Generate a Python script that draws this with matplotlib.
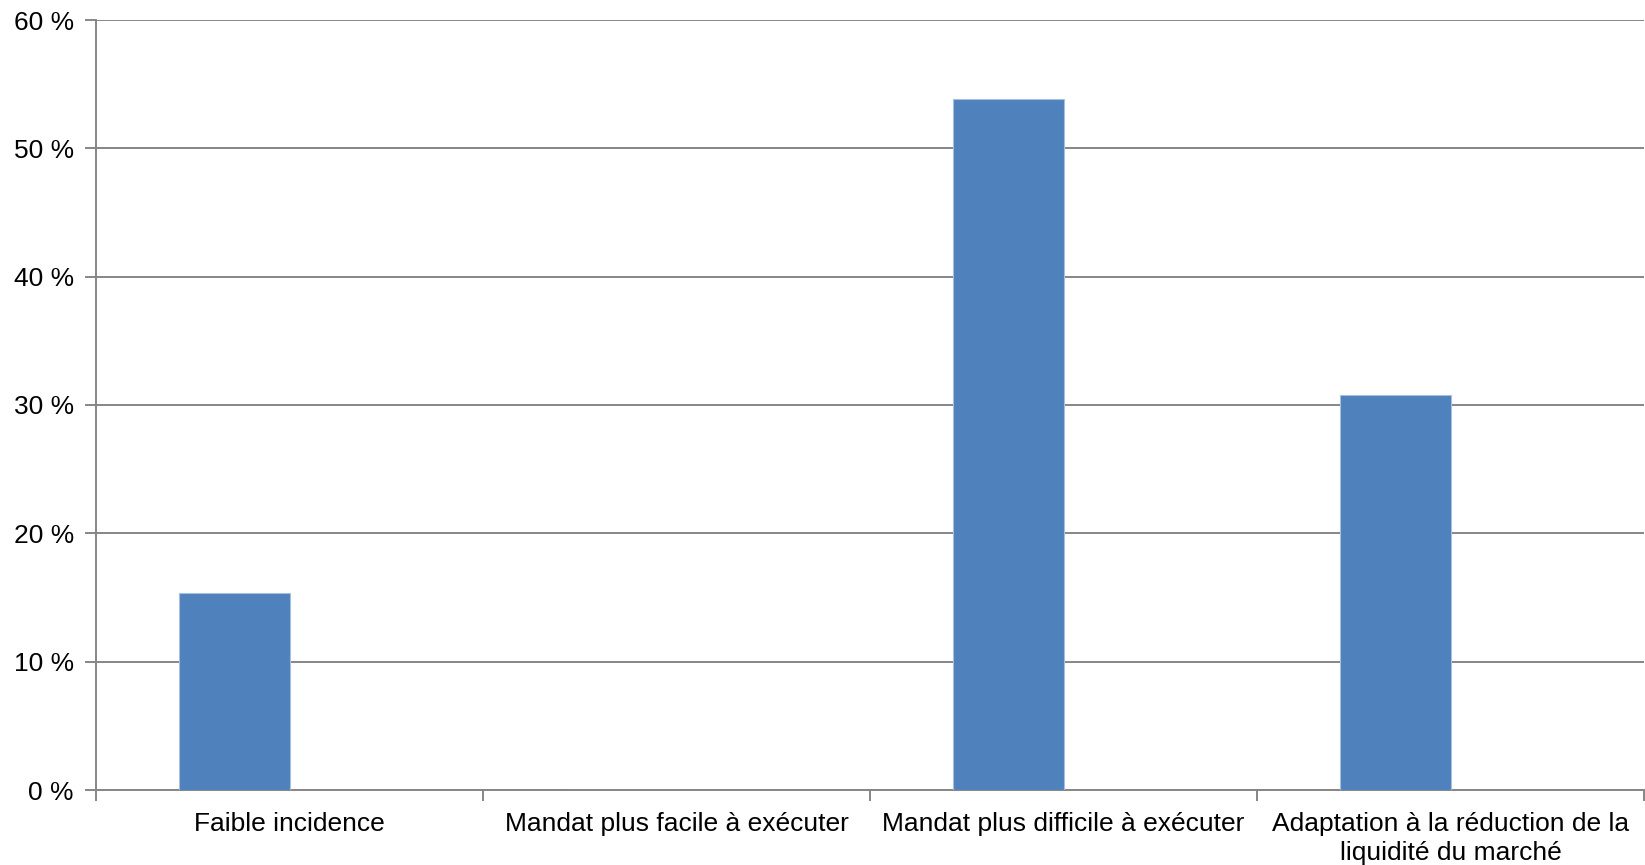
import matplotlib.pyplot as plt
import numpy as np

plt.rcParams['font.family'] = ['Liberation Sans', 'DejaVu Sans']

# réponses (parts des répondants)
categories = ["Faible incidence",
              "Mandat plus facile à exécuter",
              "Mandat plus difficile à exécuter",
              "Adaptation à la réduction de la\nliquidité du marché"]
values = [2 / 13 * 100, 0.0, 7 / 13 * 100, 4 / 13 * 100]
yticks = [0, 10, 20, 30, 40, 50, 60]
ytick_labels = [f"{v} %" for v in yticks]

grid_color = '#868686'
bar_color = '#4F81BD'

fig = plt.figure(figsize=(16.45, 8.65), dpi=100)
ax = fig.add_axes([96 / 1645, 1 - 790 / 865, 1548 / 1645, 770 / 865])

# barres groupées : largeur 1/3.5, la seconde série est vide
w = 1 / 3.5
x = np.arange(len(categories))
ax.bar(x - w / 2, values, width=w, color=bar_color, edgecolor='#A7BEDC',
       linewidth=0.8, zorder=3)

ax.set_xlim(-0.5, len(categories) - 0.5)
ax.set_ylim(0, 60)
ax.set_yticks(yticks)
ax.set_yticklabels(ytick_labels)
ax.yaxis.grid(True, color=grid_color, linewidth=1.4, zorder=0)

# graduations entre les catégories
ax.set_xticks(np.arange(len(categories) + 1) - 0.5)
ax.set_xticklabels([])
ax.set_xticks(x, minor=True)
ax.set_xticklabels(categories, minor=True, fontsize=19, linespacing=1.25)
ax.tick_params(axis='x', which='minor', length=0, pad=16)
ax.tick_params(axis='x', which='major', length=8, width=1.4, color=grid_color)
ax.tick_params(axis='y', length=8, width=1.4, color=grid_color, pad=8,
               labelsize=19)

for side in ['top', 'right']:
    ax.spines[side].set_visible(False)
for side in ['left', 'bottom']:
    ax.spines[side].set_color(grid_color)
    ax.spines[side].set_linewidth(1.4)

fig.savefig('out.png', dpi=100)
